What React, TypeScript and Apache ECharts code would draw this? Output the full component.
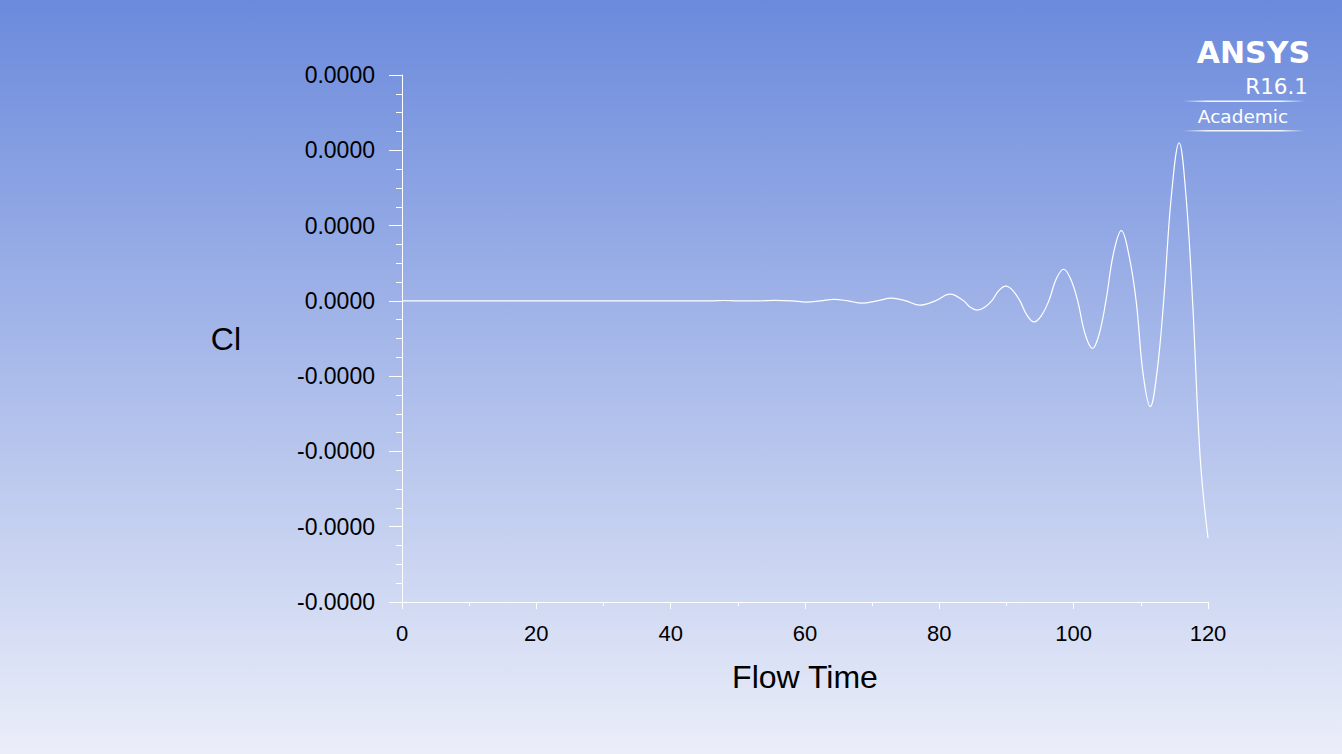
import React, { useEffect, useRef } from "react";
import * as echarts from "echarts";

// Flow time (x) and lift coefficient (in units of 1e-5)
const flowTime: number[] = [
  0, 46, 48, 50, 53, 55.5, 58, 60.2, 62.3, 64.3, 66.4, 68.5, 70.7, 72.9, 75,
  77.1, 79.4, 81.6, 83.6, 84.6, 85.6, 86.7, 87.8, 88.85, 89.9, 90.95, 92,
  93.05, 94.1, 95.2, 96.3, 97.4, 98.5, 99.55, 100.6, 101.7, 102.8, 103.8,
  104.8, 105.95, 107.1, 108.2, 109.3, 110.35, 111.4, 112.4, 113.4, 114.55,
  115.7, 116.7, 117.7, 118.85, 120,
];
const clValues: number[] = [
  0, 0, 0.005, 0, 0, 0.006, 0, -0.016, 0, 0.02, 0, -0.03, 0, 0.035, 0,
  -0.057, 0, 0.089, 0, -0.085, -0.124, -0.087, 0, 0.135, 0.195, 0.137, 0,
  -0.19, -0.279, -0.195, 0, 0.29, 0.42, 0.29, 0, -0.44, -0.633, -0.44,
  0, 0.64, 0.934, 0.62, 0, -0.98, -1.404, -0.95, 0, 1.4, 2.1, 1.42, 0,
  -2.1, -3.15,
];
const CL_UNIT = 1e-5;
const yMin = -4;
const yMax = 3;
const xTicks = [0, 20, 40, 60, 80, 100, 120];

export default function App() {
  const ref = useRef<HTMLDivElement>(null);
  useEffect(() => {
    if (!ref.current) return;
    const chart = echarts.init(ref.current, undefined, { renderer: "svg" });
    const white = "#ffffff";
    const lineGrad = (y: number) => ({
      type: "rect",
      shape: { x: 1183, y, width: 122, height: 1.5 },
      style: {
        fill: new echarts.graphic.LinearGradient(0, 0, 1, 0, [
          { offset: 0, color: "rgba(255,255,255,0)" },
          { offset: 0.2, color: "rgba(255,255,255,0.9)" },
          { offset: 0.8, color: "rgba(255,255,255,0.9)" },
          { offset: 1, color: "rgba(255,255,255,0)" },
        ]),
      },
      silent: true,
    });
    chart.setOption({
      animation: false,
      backgroundColor: {
        type: "linear",
        x: 0,
        y: 0,
        x2: 0,
        y2: 1,
        colorStops: [
          { offset: 0, color: "#6b8adc" },
          { offset: 1, color: "#ebeef9" },
        ],
      },
      grid: { left: 402, right: 134, top: 75, bottom: 152, containLabel: false },
      xAxis: {
        type: "value",
        min: xTicks[0],
        max: xTicks[xTicks.length - 1],
        interval: 20,
        name: "Flow Time",
        nameLocation: "middle",
        nameGap: 59,
        nameTextStyle: { color: "#000", fontSize: 32, fontFamily: "Liberation Sans" },
        axisLine: { onZero: false, lineStyle: { color: white, width: 1 } },
        axisTick: { show: true, length: 7, lineStyle: { color: white } },
        minorTick: { show: true, splitNumber: 2, length: 4, lineStyle: { color: white } },
        splitLine: { show: false },
        minorSplitLine: { show: false },
        axisLabel: { color: "#000", fontSize: 22, fontFamily: "Liberation Sans", margin: 20 },
      },
      yAxis: {
        type: "value",
        min: yMin,
        max: yMax,
        interval: 1,
        name: "Cl",
        nameLocation: "middle",
        nameRotate: 0,
        nameGap: 161,
        nameTextStyle: { color: "#000", fontSize: 32, fontFamily: "Liberation Sans" },
        axisLine: { show: true, onZero: false, lineStyle: { color: white, width: 1 } },
        axisTick: { show: true, length: 13, lineStyle: { color: white } },
        minorTick: { show: true, splitNumber: 4, length: 6, lineStyle: { color: white } },
        splitLine: { show: false },
        minorSplitLine: { show: false },
        axisLabel: {
          color: "#000",
          fontSize: 23,
          fontFamily: "Liberation Sans",
          margin: 27,
          formatter: (v: number) => (v * CL_UNIT).toFixed(4),
        },
      },
      series: [
        {
          type: "line",
          data: flowTime.map((t, i) => [t, clValues[i]]),
          smooth: 0.4,
          showSymbol: false,
          symbol: "none",
          lineStyle: { color: white, width: 1.2 },
        },
      ],
      graphic: [
        {
          type: "text",
          x: 1310,
          y: 52,
          style: {
            text: "ANSYS",
            fill: white,
            font: "bold 30px 'DejaVu Sans'",
            textAlign: "right",
            textVerticalAlign: "middle",
          },
          silent: true,
        },
        {
          type: "text",
          x: 1308,
          y: 86,
          style: {
            text: "R16.1",
            fill: white,
            font: "21.5px 'DejaVu Sans'",
            textAlign: "right",
            textVerticalAlign: "middle",
          },
          silent: true,
        },
        lineGrad(100.5),
        {
          type: "text",
          x: 1243,
          y: 116,
          style: {
            text: "Academic",
            fill: white,
            font: "18.5px 'DejaVu Sans'",
            textAlign: "center",
            textVerticalAlign: "middle",
          },
          silent: true,
        },
        lineGrad(130),
      ],
    });
    return () => chart.dispose();
  }, []);
  return (
    <div
      ref={ref}
      style={{ position: "fixed", left: 0, top: 0, width: 1342, height: 754 }}
    />
  );
}
